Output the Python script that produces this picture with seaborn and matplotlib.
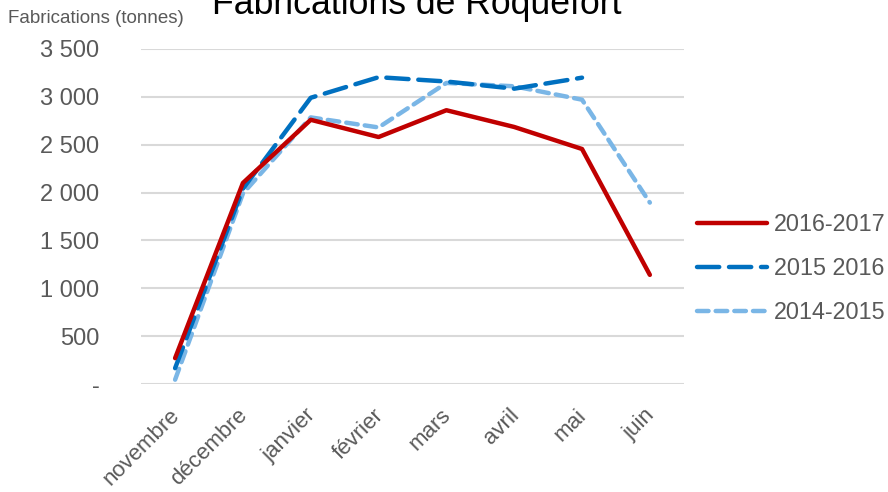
"""Fabrications de Roquefort: monthly production per campaign."""

import numpy as np
import pandas as pd
import matplotlib
matplotlib.use("Agg")
import matplotlib.pyplot as plt
import matplotlib.transforms as mtransforms
import seaborn as sns

MONTHS = ["novembre", "décembre", "janvier", "février", "mars", "avril", "mai", "juin"]
SERIES = ["2016-2017", "2015 2016", "2014-2015"]
VALS_2016_2017 = [270, 2100, 2760, 2580, 2860, 2685, 2455, 1140]
VALS_2015_2016 = [165, 2040, 2990, 3205, 3160, 3085, 3200, np.nan]
VALS_2014_2015 = [45, 1990, 2785, 2680, 3145, 3110, 2970, 1895]
Y_TICKS = [0, 500, 1000, 1500, 2000, 2500, 3000, 3500]
Y_LABELS = ["-", "500", "1 000", "1 500", "2 000", "2 500", "3 000", "3 500"]

COLORS = {"2016-2017": "#C00000", "2015 2016": "#0070C0", "2014-2015": "#7AB6E6"}
DASHES = {"2016-2017": "", "2015 2016": (5, 2.2), "2014-2015": (2.6, 1.6)}

df = pd.DataFrame({
    "mois": MONTHS * 3,
    "pos": list(range(len(MONTHS))) * 3,
    "serie": [s for s in SERIES for _ in MONTHS],
    "tonnes": VALS_2016_2017 + VALS_2015_2016 + VALS_2014_2015,
})

sns.set_style("white")
plt.rcParams["font.family"] = ["Liberation Sans", "DejaVu Sans"]
plt.rcParams["lines.dash_capstyle"] = "round"
plt.rcParams["lines.solid_capstyle"] = "round"

fig = plt.figure(figsize=(8.88, 4.92), dpi=100)
ax = fig.add_axes([0.159, 0.2195, 0.611, 0.681])

for s in SERIES[::-1]:
    sub = df[df["serie"] == s]
    sns.lineplot(data=sub, x="pos", y="tonnes", color=COLORS[s], lw=3.2,
                 dashes=False, ax=ax, label=s, sort=False)
    ln = ax.lines[-1]
    if DASHES[s]:
        ln.set_dashes(DASHES[s])
    ln.set_dash_capstyle("round")

ax.set_xlim(-0.5, len(MONTHS) - 0.5)
ax.set_ylim(0, 3500)
ax.set_yticks(Y_TICKS)
ax.set_yticklabels(Y_LABELS)
ax.set_xticks(range(len(MONTHS)))
ax.set_xticklabels(MONTHS, rotation=45, ha="right", rotation_mode="anchor")
ax.tick_params(axis="both", length=0, colors="#595959")
ax.tick_params(axis="y", pad=30, labelsize=17)
ax.tick_params(axis="x", pad=15, labelsize=16)
shift = mtransforms.ScaledTranslation(-6 / 100, 0, fig.dpi_scale_trans)
for t in ax.get_xticklabels():
    t.set_transform(t.get_transform() + shift)
ax.grid(axis="y", color="#D9D9D9", lw=1.5)
ax.set_axisbelow(True)
for sp in ax.spines.values():
    sp.set_visible(False)
ax.set_xlabel("")
ax.set_ylabel("")

handles, labels = ax.get_legend_handles_labels()
order = [labels.index(s) for s in SERIES]
ax.legend([handles[i] for i in order], [labels[i] for i in order],
          loc="center left", bbox_to_anchor=(0.985, 0.345), frameon=False,
          fontsize=16.8, labelcolor="#595959", handlelength=3.0,
          handletextpad=0.3, labelspacing=0.9)

fig.text(0.009, 0.963, "Fabrications (tonnes)", fontsize=13.5, color="#595959",
         va="center")
fig.text(0.469, 0.99, "Fabrications de Roquefort", fontsize=25.7, color="#000000",
         ha="center", va="center")

fig.savefig("out.png", dpi=100)
